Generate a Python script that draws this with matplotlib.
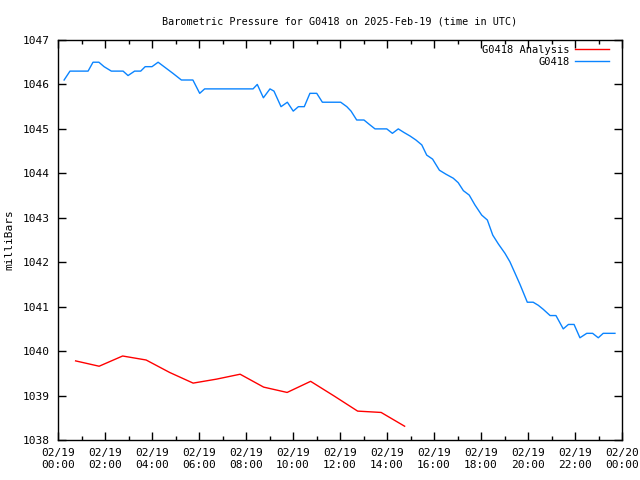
import matplotlib
matplotlib.use("Agg")
import matplotlib.pyplot as plt
from matplotlib.ticker import MultipleLocator, FixedLocator

# Observed station pressure (hours since 02/19 00:00 UTC)
obs_hours = [0.26, 0.51, 1.28, 1.49, 1.74, 1.96, 2.27, 2.77, 2.98, 3.26, 3.52, 3.71, 4.0, 4.26,
             4.89, 5.25, 5.74, 6.03, 6.24, 8.30, 8.48, 8.74, 9.02, 9.19, 9.49, 9.76, 10.01,
             10.23, 10.48, 10.72, 11.01, 11.25, 12.03, 12.29, 12.47, 12.71, 13.02, 13.25,
             13.49, 13.99, 14.23, 14.48, 14.72, 14.98, 15.23, 15.48, 15.69, 15.94, 16.23,
             16.51, 16.82, 17.03, 17.25, 17.50, 17.74, 18.03, 18.27, 18.50, 18.74, 19.02,
             19.23, 19.45, 19.66, 19.97, 20.22, 20.44, 20.65, 20.94, 21.19, 21.50, 21.72,
             21.96, 22.21, 22.50, 22.75, 22.99, 23.2, 23.70]
obs_values = [1046.1, 1046.3, 1046.3, 1046.5, 1046.5, 1046.4, 1046.3, 1046.3, 1046.2, 1046.3,
              1046.3, 1046.4, 1046.4, 1046.5, 1046.25, 1046.1, 1046.1, 1045.8, 1045.9, 1045.9,
              1046.0, 1045.7, 1045.9, 1045.85, 1045.5, 1045.6, 1045.4, 1045.5, 1045.5, 1045.8,
              1045.8, 1045.6, 1045.6, 1045.5, 1045.4, 1045.2, 1045.2, 1045.1, 1045.0, 1045.0,
              1044.9, 1045.0, 1044.92, 1044.84, 1044.75, 1044.64, 1044.41, 1044.32, 1044.07,
              1043.98, 1043.89, 1043.79, 1043.61, 1043.51, 1043.29, 1043.06, 1042.95, 1042.61,
              1042.41, 1042.2, 1042.01, 1041.75, 1041.5, 1041.1, 1041.1, 1041.03, 1040.94,
              1040.8, 1040.8, 1040.5, 1040.6, 1040.6, 1040.3, 1040.4, 1040.4, 1040.3, 1040.4,
              1040.4]

# Analysis pressure
ana_hours = [0.75, 1.75, 2.75, 3.75, 4.75, 5.75, 6.75, 7.75, 8.75, 9.75, 10.75, 11.75,
             12.75, 13.75, 14.75]
ana_values = [1039.78, 1039.66, 1039.89, 1039.80, 1039.52, 1039.28, 1039.37, 1039.48,
              1039.19, 1039.07, 1039.32, 1038.99, 1038.65, 1038.62, 1038.31]

xtick_labels = ["02/19\n00:00", "02/19\n02:00", "02/19\n04:00", "02/19\n06:00", "02/19\n08:00",
                "02/19\n10:00", "02/19\n12:00", "02/19\n14:00", "02/19\n16:00", "02/19\n18:00",
                "02/19\n20:00", "02/19\n22:00", "02/20\n00:00"]

plt.rcParams['font.family'] = ['DejaVu Sans Mono']
fig = plt.figure(figsize=(6.4, 4.8), dpi=100)
ax = fig.add_axes([58/640, 40/480, 564/640, 400/480])

ax.plot(ana_hours, ana_values, color='#ff0000', lw=1.0, label='G0418 Analysis')
ax.plot(obs_hours, obs_values, color='#0a84ff', lw=1.0, label='G0418')

ax.set_xlim(0, 24)
ax.set_ylim(1038, 1047)
ax.xaxis.set_major_locator(FixedLocator(list(range(0, 25, 2))))
ax.set_xticklabels(xtick_labels)
ax.xaxis.set_minor_locator(MultipleLocator(1))
ax.yaxis.set_major_locator(MultipleLocator(1))
ax.tick_params(axis='both', which='major', direction='in', length=6, width=1,
               top=True, right=True, labelsize=8, pad=6)
ax.tick_params(axis='x', which='minor', direction='in', length=3, width=1, top=True)
for s in ax.spines.values():
    s.set_linewidth(1)

ax.set_ylabel('milliBars', fontsize=8, labelpad=6)
ax.set_title('Barometric Pressure for G0418 on 2025-Feb-19 (time in UTC)', fontsize=7.3, pad=11)

leg = ax.legend(loc='upper right', bbox_to_anchor=((612 - 58) / 564, 1 - 2 / 400),
                frameon=False, markerfirst=False, fontsize=7.5,
                handlelength=3.3, handletextpad=0.5, borderaxespad=0.0, labelspacing=0.15,
                borderpad=0.3)
for t in leg.get_texts():
    t.set_ha('right')
leg._legend_box.align = 'right'

fig.savefig('out.png', dpi=100)
